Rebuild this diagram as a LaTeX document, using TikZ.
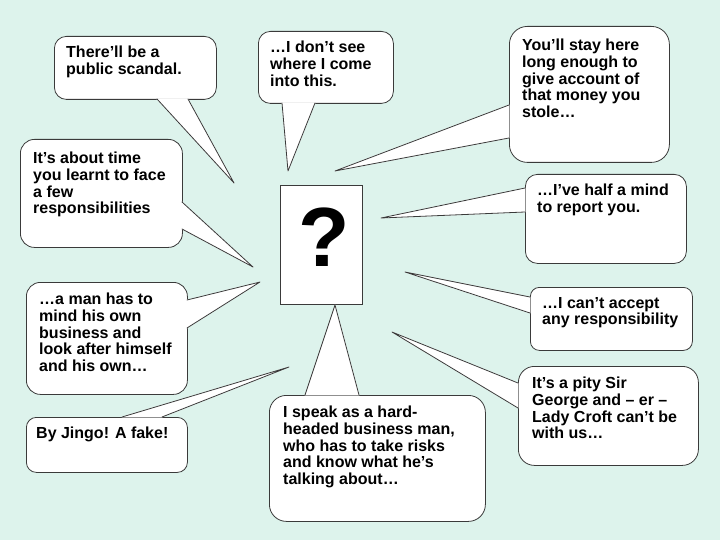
\documentclass[tikz,border=0pt]{standalone}
\usepackage{fontspec}
\setmainfont{Liberation Sans}
\usepackage{tikz}
\usetikzlibrary{positioning, calc}
\definecolor{bgmint}{HTML}{DDF3EC}
\definecolor{inkgray}{HTML}{3A3A3A}

\begin{document}
\begin{tikzpicture}[x=1pt, y=-1pt,
  bubble/.style={draw=inkgray, fill=white, line width=0.8pt, rounded corners=12pt,
                 anchor=north west, inner sep=0pt},
  saytext/.style={font=\fontsize{16}{16.7}\selectfont\bfseries, align=left,
                  inner sep=0pt, anchor=north west},
  tailfill/.style={fill=white, draw=white, line width=0.8pt, line join=round},
  tailline/.style={draw=inkgray, line width=0.8pt, line join=round, line cap=round}]
  % background
  \fill[bgmint] (0,0) rectangle (720,540);
  \useasboundingbox (0,0) rectangle (720,540);

  % the man in the middle
  \node[draw=inkgray, fill=white, line width=0.6pt, minimum width=82pt, minimum height=119pt,
        anchor=north west, inner sep=0pt] (who) at (280,185) {};
  \node[font=\fontsize{84}{84}\selectfont\bfseries, inner sep=0pt] (qmark)
        at ($(who.center)+(3,-8)$) {?};

  % speech bubbles
  \node[bubble, minimum width=162pt, minimum height=63pt] (scandal) at (54,36) {};
  \node[bubble, minimum width=135pt, minimum height=72pt] (dontsee) at (258,31) {};
  \node[bubble, rounded corners=18pt, minimum width=160pt, minimum height=136pt] (stole) at (509,26) {};
  \node[bubble, rounded corners=14pt, minimum width=162pt, minimum height=108pt] (abouttime) at (20,139) {};
  \node[bubble, rounded corners=14pt, minimum width=161pt, minimum height=112pt] (ownbiz) at (26,282) {};
  \node[bubble, rounded corners=10pt, minimum width=161pt, minimum height=55pt] (jingo) at (26,417) {};
  \node[bubble, rounded corners=17pt, minimum width=216pt, minimum height=126pt] (hardhead) at (269,395) {};
  \node[bubble, minimum width=161pt, minimum height=89pt] (halfmind) at (525,174) {};
  \node[bubble, rounded corners=9pt, minimum width=162pt, minimum height=63pt] (accept) at (530,287) {};
  \node[bubble, rounded corners=16pt, minimum width=180pt, minimum height=99pt] (pity) at (518,366) {};

  % tails: bubble / base points from its north west / tip
  \foreach \nm/\ux/\uy/\vx/\vy/\tx/\ty in {
      scandal/103/63/134/63/234/183, dontsee/24/72/57/72/288/171,
      stole/0/79/0/112/335/171, abouttime/162/63/162/90/253/267,
      ownbiz/161/18/161/46/260/282, jingo/96/0/136/0/289/367,
      hardhead/36/0/90/0/335/305, halfmind/0/14/0/38/381/218,
      accept/0/10/0/26/405/272, pity/0/17/0/42/392/332}{
    \coordinate (\nm-tip) at (\tx,\ty);
    \fill[tailfill] ($(\nm.north west)+(\ux,\uy)$) -- (\nm-tip)
                    -- ($(\nm.north west)+(\vx,\vy)$) -- cycle;
    \draw[tailline] ($(\nm.north west)+(\ux,\uy)$) -- (\nm-tip)
                    -- ($(\nm.north west)+(\vx,\vy)$);
  }

  % what they say
  \node[saytext, below right=10pt and 12pt of scandal.north west] (scandaltxt)
    {There’ll be a\\public scandal.};
  \node[saytext, below right=10pt and 12pt of dontsee.north west] (dontseetxt)
    {…I don’t see\\where I come\\into this.};
  \node[saytext, below right=13pt and 13pt of stole.north west] (stoletxt)
    {You’ll stay here\\long enough to\\give account of\\that money you\\stole…};
  \node[saytext, below right=13pt and 13pt of abouttime.north west] (abouttimetxt)
    {It’s about time\\you learnt to face\\a few\\responsibilities};
  \node[saytext, below right=11pt and 13pt of ownbiz.north west] (ownbiztxt)
    {…a man has to\\mind his own\\business and\\look after himself\\and his own…};
  \node[saytext, below right=10pt and 10pt of jingo.north west] (jingotxt)
    {By Jingo! A fake!};
  \node[saytext, below right=11pt and 14pt of hardhead.north west] (hardheadtxt)
    {I speak as a hard-\\headed business man,\\who has to take risks\\and know what he’s\\talking about…};
  \node[saytext, below right=10pt and 12pt of halfmind.north west] (halfmindtxt)
    {…I’ve half a mind\\to report you.};
  \node[saytext, below right=10pt and 12pt of accept.north west] (accepttxt)
    {…I can’t accept\\any responsibility};
  \node[saytext, below right=11pt and 14pt of pity.north west] (pitytxt)
    {It’s a pity Sir\\George and – er –\\Lady Croft can’t be\\with us…};
\end{tikzpicture}
\end{document}
